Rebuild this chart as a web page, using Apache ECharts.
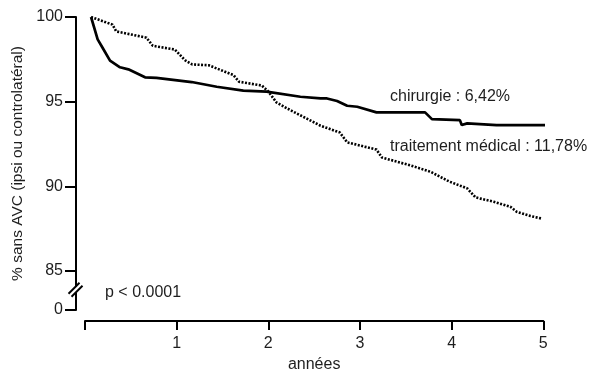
<!DOCTYPE html>
<html>
<head>
<meta charset="utf-8">
<script src="https://cdn.jsdelivr.net/npm/echarts@6/dist/echarts.min.js"></script>
<style>html,body{margin:0;padding:0;background:#fff;}#c{width:596px;height:372px;}</style>
</head>
<body>
<div id="c"></div>
<script>
// Data (years, % free of stroke)
const chirurgieT = [0.066, 0.138, 0.19, 0.273, 0.382, 0.473, 0.655, 0.78, 1.164, 1.437, 1.727, 1.98, 2.35, 2.57, 2.64, 2.75, 2.86, 2.97, 3.18, 3.71, 3.785, 4.09, 4.11, 4.17, 4.49, 5.04];
const chirurgieV = [100, 98.68, 98.2, 97.42, 97.03, 96.91, 96.44, 96.41, 96.16, 95.88, 95.65, 95.59, 95.29, 95.2, 95.19, 95.04, 94.76, 94.7, 94.37, 94.37, 93.97, 93.91, 93.62, 93.72, 93.62, 93.62];
const medicalT = [0.066, 0.30, 0.34, 0.67, 0.74, 0.98, 1.09, 1.17, 1.35, 1.62, 1.68, 1.93, 2.0, 2.09, 2.24, 2.42, 2.57, 2.78, 2.86, 3.18, 3.24, 3.55, 3.77, 3.98, 4.17, 4.26, 4.46, 4.64, 4.71, 4.86, 4.99];
const medicalV = [100, 99.55, 99.15, 98.78, 98.3, 98.08, 97.45, 97.2, 97.15, 96.57, 96.18, 95.95, 95.6, 94.95, 94.5, 94.0, 93.58, 93.18, 92.6, 92.17, 91.7, 91.24, 90.86, 90.27, 89.88, 89.35, 89.09, 88.8, 88.5, 88.25, 88.09];
const yTickValues = [82.7, 85, 90, 95, 100];
const yTickLabels = ['0', '85', '90', '95', '100'];
const xTickLabels = ['', '1', '2', '3', '4', '5'];
const yName = '% sans AVC (ipsi ou controlatéral)';
const xName = 'années';
const labelChirurgie = 'chirurgie : 6,42%';
const labelMedical = 'traitement médical : 11,78%';
const pText = 'p < 0.0001';

const FONT = "'Liberation Sans', Arial, sans-serif";
const TXT = '#1e1e1e';
const chart = echarts.init(document.getElementById('c'), null, {renderer: 'canvas'});

const zip = (t, v) => t.map((x, i) => [x, v[i]]);

chart.setOption({
  animation: false,
  backgroundColor: '#fff',
  grid: {left: 85, right: 52.7, top: 17, bottom: 62, outerBoundsMode: 'none', containLabel: false},
  xAxis: {
    type: 'value', min: 0, max: 5, interval: 1, offset: 11,
    axisLine: {onZero: false, lineStyle: {color: '#000', width: 2}},
    axisTick: {length: 9, lineStyle: {color: '#000', width: 2}},
    splitLine: {show: false},
    axisLabel: {margin: 15, color: TXT, fontFamily: FONT, fontSize: 16,
      formatter: v => xTickLabels[Math.round(v)] ?? ''},
    name: xName, nameLocation: 'middle', nameGap: 35,
    nameTextStyle: {color: TXT, fontFamily: FONT, fontSize: 16}
  },
  yAxis: {
    type: 'value', min: 82.7, max: 100, offset: 9,
    axisLine: {show: true, onZero: false, lineStyle: {color: '#000', width: 2}},
    axisTick: {show: true, length: 11, lineStyle: {color: '#000', width: 2}, customValues: yTickValues},
    splitLine: {show: false},
    axisLabel: {margin: 13, color: TXT, fontFamily: FONT, fontSize: 16, customValues: yTickValues,
      formatter: v => { const i = yTickValues.findIndex(x => Math.abs(x - v) < 1e-6); return i >= 0 ? yTickLabels[i] : ''; }},
    name: yName, nameLocation: 'middle', nameGap: 42,
    nameTextStyle: {color: TXT, fontFamily: FONT, fontSize: 15.5}
  },
  series: [
    {type: 'line', name: 'chirurgie', data: zip(chirurgieT, chirurgieV), showSymbol: false, symbol: 'none',
      lineStyle: {color: '#000', width: 2.7}, z: 3},
    {type: 'line', name: 'traitement médical', data: zip(medicalT, medicalV), showSymbol: false, symbol: 'none',
      lineStyle: {color: '#000', width: 2.6, type: [2, 1.5]}, z: 2}
  ]
});

// break marker and annotations
const axX = chart.convertToPixel({gridIndex: 0}, [0, 85])[0] - 9.5;
const yMid = chart.convertToPixel({gridIndex: 0}, [0, 83.9])[1];
chart.setOption({
  graphic: [
    {type: 'rect', shape: {x: axX - 3, y: yMid - 3, width: 6, height: 6}, style: {fill: '#fff'}, z: 100},
    {type: 'line', shape: {x1: axX - 7, y1: yMid + 4, x2: axX + 4, y2: yMid - 7}, style: {stroke: '#000', lineWidth: 2}, z: 101},
    {type: 'line', shape: {x1: axX - 4, y1: yMid + 7, x2: axX + 7, y2: yMid - 4}, style: {stroke: '#000', lineWidth: 2}, z: 101},
    {type: 'text', x: 390, y: 97, style: {text: labelChirurgie, font: '16px ' + FONT, fill: TXT, verticalAlign: 'middle'}, z: 100},
    {type: 'text', x: 390, y: 147, style: {text: labelMedical, font: '16px ' + FONT, fill: TXT, verticalAlign: 'middle'}, z: 100},
    {type: 'text', x: 105, y: 293, style: {text: pText, font: '16px ' + FONT, fill: TXT, verticalAlign: 'middle'}, z: 100}
  ]
});
</script>
</body>
</html>
